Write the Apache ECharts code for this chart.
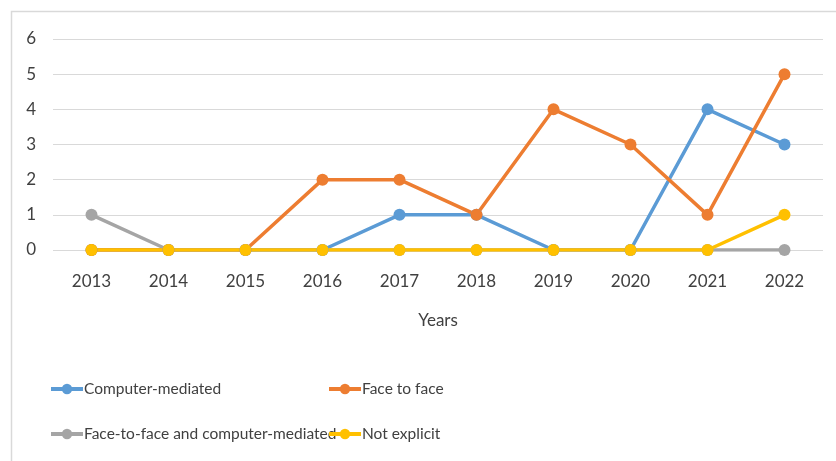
<!DOCTYPE html>
<html>
<head>
<meta charset="utf-8">
<script src="https://cdn.jsdelivr.net/npm/echarts@6/dist/echarts.min.js"></script>
<style>
  html, body { margin: 0; padding: 0; background: #fff; }
  #chart { width: 836px; height: 461px; }
</style>
</head>
<body>
<div id="chart"></div>
<script>
const years = ['2013', '2014', '2015', '2016', '2017', '2018', '2019', '2020', '2021', '2022']
const computerMediated = [0, 0, 0, 0, 1, 1, 0, 0, 4, 3]
const faceToFace = [0, 0, 0, 2, 2, 1, 4, 3, 1, 5]
const blended = [1, 0, 0, 0, 0, 0, 0, 0, 0, 0]
const notExplicit = [0, 0, 0, 0, 0, 0, 0, 0, 0, 1]

const FONT = 'Lato, "Noto Sans", sans-serif'
const TXT = '#404040'

function line(name, data, color) {
  return {
    name, type: 'line', data,
    symbol: 'circle', symbolSize: 12,
    lineStyle: { color, width: 3.5 },
    itemStyle: { color },
  }
}

function legendAt(name, left, top) {
  return {
    data: [name], left, top,
    itemWidth: 32, itemHeight: 13, itemGap: 0,
    lineStyle: { width: 4 },
    textStyle: { fontFamily: FONT, fontSize: 15.5, color: TXT, padding: [0, 0, 0, -4] },
  }
}

const chart = echarts.init(document.getElementById('chart'))
chart.setOption({
  animation: false,
  graphic: [{
    type: 'rect', left: 9, top: 9, silent: true,
    shape: { width: 840, height: 470 },
    style: { fill: 'none', stroke: '#d9d9d9', lineWidth: 1.5 },
  }],
  legend: [
    legendAt('Computer-mediated', 44, 376),
    legendAt('Face to face', 322, 376),
    legendAt('Face-to-face and computer-mediated', 44, 421),
    legendAt('Not explicit', 322, 421),
  ],
  grid: { left: 53, right: 13, top: 39, height: 211 },
  xAxis: {
    type: 'category', data: years,
    name: 'Years', nameLocation: 'middle', nameGap: 62,
    nameTextStyle: { fontFamily: FONT, fontSize: 17, color: TXT },
    axisLine: { show: false }, axisTick: { show: false },
    axisLabel: { fontFamily: FONT, fontSize: 17, color: TXT, margin: 23 },
  },
  yAxis: {
    type: 'value', min: 0, max: 6, interval: 1,
    axisLine: { show: false }, axisTick: { show: false },
    axisLabel: { fontFamily: FONT, fontSize: 17, color: TXT, margin: 17 },
    splitLine: { lineStyle: { color: '#d9d9d9', width: 1 } },
  },
  series: [
    line('Computer-mediated', computerMediated, '#5B9BD5'),
    line('Face to face', faceToFace, '#ED7D31'),
    line('Face-to-face and computer-mediated', blended, '#A5A5A5'),
    line('Not explicit', notExplicit, '#FFC000'),
  ],
})
</script>
</body>
</html>
